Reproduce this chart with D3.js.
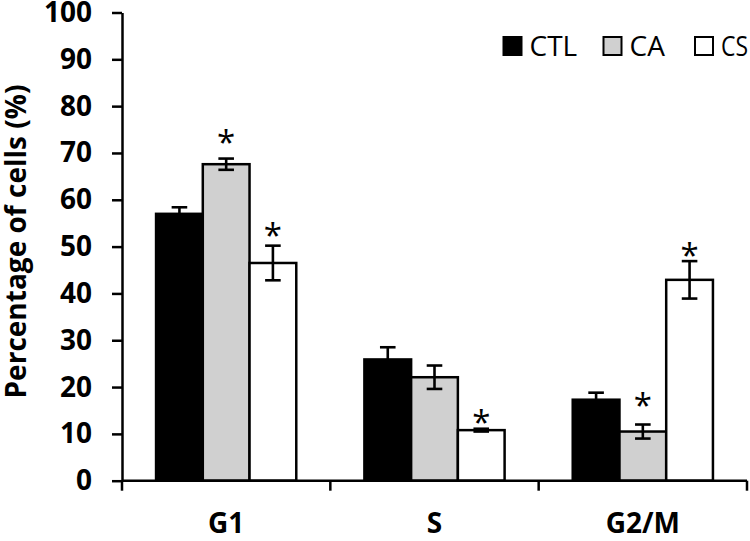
<!DOCTYPE html>
<html>
<head>
<meta charset="utf-8">
<script src="https://cdn.jsdelivr.net/npm/d3@7/dist/d3.min.js"></script>
<style>
  html, body { margin: 0; padding: 0; background: #fff; }
  svg { display: block; }
</style>
</head>
<body>
<svg id="chart" width="750" height="541"></svg>
<script>
// ---- data ----
const categories = ["G1", "S", "G2/M"];
const seriesNames = ["CTL", "CA", "CS"];
const seriesColors = ["#000000", "#d0d0d0", "#ffffff"];
const valuesCTL = [57.0, 25.9, 17.3];
const valuesCA  = [67.6, 22.1, 10.5];
const valuesCS  = [46.5, 10.8, 42.9];
const errorsCTL = [1.4, 2.6, 1.5];
const errorsCA  = [1.2, 2.5, 1.5];
const errorsCS  = [3.7, 0.3, 4.0];
const yTicks = [0, 10, 20, 30, 40, 50, 60, 70, 80, 90, 100];
// significance asterisks: category, series, y value of asterisk centre
const sigCategory = ["G1", "G1", "S", "G2/M", "G2/M"];
const sigSeries   = ["CA", "CS", "CS", "CA", "CS"];
const sigValue    = [73.7, 53.8, 13.9, 17.6, 49.6];

const values = [valuesCTL, valuesCA, valuesCS];
const errors = [errorsCTL, errorsCA, errorsCS];

// ---- layout ----
const svg = d3.select("#chart");
const mLeft = 122, mRight = 747, mTop = 12.5, mBottom = 480.7;
const FONT = "'Open Sans', 'DejaVu Sans', sans-serif";

const x0 = d3.scaleBand().domain(categories).range([mLeft, mRight]).paddingInner(0).paddingOuter(0);
const groupFrac = 0.673;
const x1 = d3.scaleBand().domain(seriesNames)
  .range([0, x0.bandwidth() * groupFrac]);
const groupOffset = x0.bandwidth() * (1 - groupFrac) / 2;
const y = d3.scaleLinear().domain([0, 100]).range([mBottom, mTop]);

const rows = [];
categories.forEach((c, ci) => {
  seriesNames.forEach((s, si) => {
    rows.push({cat: c, ser: s, si, v: values[si][ci], e: errors[si][ci]});
  });
});

const gBars = svg.append("g");
gBars.selectAll("rect").data(rows).join("rect")
  .attr("x", d => x0(d.cat) + groupOffset + x1(d.ser))
  .attr("y", d => y(d.v))
  .attr("width", x1.bandwidth())
  .attr("height", d => y(0) - y(d.v))
  .attr("fill", d => seriesColors[d.si])
  .attr("stroke", "#000")
  .attr("stroke-width", 2.5);

// error bars
const capW = 15.6;
const gErr = svg.append("g").attr("stroke", "#000").attr("stroke-width", 2.6).attr("fill", "none");
rows.forEach(d => {
  const cx = x0(d.cat) + groupOffset + x1(d.ser) + x1.bandwidth() / 2;
  const yt = y(d.v + d.e), yb = y(d.v - d.e);
  gErr.append("line").attr("x1", cx).attr("x2", cx).attr("y1", yt).attr("y2", yb);
  gErr.append("line").attr("x1", cx - capW / 2).attr("x2", cx + capW / 2).attr("y1", yt).attr("y2", yt);
  gErr.append("line").attr("x1", cx - capW / 2).attr("x2", cx + capW / 2).attr("y1", yb).attr("y2", yb);
});

// asterisks
const starSize = 33;
svg.append("g").selectAll("text").data(sigCategory.map((c, i) => ({c, s: sigSeries[i], v: sigValue[i]})))
  .join("text")
  .attr("x", d => x0(d.c) + groupOffset + x1(d.s) + x1.bandwidth() / 2)
  .attr("y", d => y(d.v) + starSize * 0.56)
  .attr("text-anchor", "middle")
  .attr("font-family", FONT)
  .attr("font-size", starSize)
  .attr("fill", "#000")
  .text("*");

// y axis
const yAxis = d3.axisLeft(y).tickValues(yTicks).tickSize(10).tickPadding(20).tickSizeOuter(0);
const gy = svg.append("g").attr("transform", `translate(${mLeft},0)`).call(yAxis);
gy.select(".domain").attr("stroke", "#000").attr("stroke-width", 2.5);
gy.selectAll(".tick line").attr("stroke", "#000").attr("stroke-width", 2.5);
gy.selectAll(".tick text").attr("font-family", FONT).attr("font-size", 28)
  .attr("font-weight", "bold").attr("fill", "#000");

// x axis (ticks at category boundaries)
const gx = svg.append("g").attr("transform", `translate(0,${mBottom})`);
gx.append("line").attr("x1", mLeft).attr("x2", mRight).attr("y1", 0).attr("y2", 0)
  .attr("stroke", "#000").attr("stroke-width", 2.5);
const edges = categories.map(c => x0(c)).concat([x0(categories[categories.length - 1]) + x0.bandwidth()]);
gx.selectAll("line.edge").data(edges).join("line").attr("class", "edge")
  .attr("x1", d => d).attr("x2", d => d).attr("y1", 0).attr("y2", 10)
  .attr("stroke", "#000").attr("stroke-width", 2.5);
gx.selectAll("text").data(categories).join("text")
  .attr("x", d => x0(d) + x0.bandwidth() / 2)
  .attr("y", 533 - mBottom)
  .attr("text-anchor", "middle")
  .attr("font-family", FONT).attr("font-size", 28).attr("font-weight", "bold")
  .attr("fill", "#000")
  .text(d => d);

// y title
svg.append("text")
  .attr("transform", `translate(26,241.5) rotate(-90)`)
  .attr("text-anchor", "middle")
  .attr("font-family", FONT).attr("font-size", 29).attr("font-weight", "bold")
  .attr("textLength", 314).attr("lengthAdjust", "spacingAndGlyphs")
  .attr("fill", "#000")
  .text("Percentage of cells (%)");

// legend
const legendX = [502.5, 602.5, 694];
const lg = svg.append("g");
seriesNames.forEach((s, i) => {
  lg.append("rect").attr("x", legendX[i] + 1).attr("y", 37).attr("width", 18).attr("height", 18)
    .attr("fill", seriesColors[i]).attr("stroke", "#000").attr("stroke-width", 2);
  lg.append("text").attr("x", legendX[i] + 27).attr("y", 56)
    .attr("font-family", FONT).attr("font-size", 28).attr("fill", "#000")
    .attr("textLength", i === 2 ? 27 : null).attr("lengthAdjust", "spacingAndGlyphs")
    .text(s);
});
</script>
</body>
</html>
